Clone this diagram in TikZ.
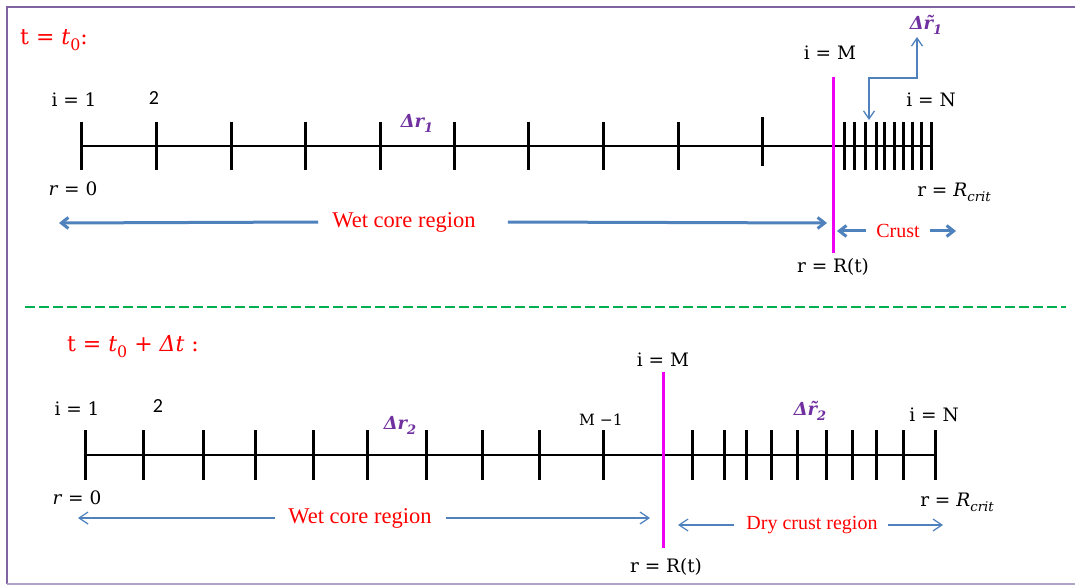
\documentclass[tikz,border=0pt]{standalone}
\usepackage{fontspec}
\newfontfamily\timesfont{Liberation Serif}
\newfontfamily\calibrifont{Carlito}
\newfontfamily\lblfont{DejaVu Serif}
\usetikzlibrary{arrows.meta}
\newcommand\lowidx[1]{\raisebox{-0.28em}{\scalebox{0.72}{#1}}}
\definecolor{framecol}{HTML}{8064A2}
\definecolor{framelight}{HTML}{B3A2C7}
\definecolor{arrowblue}{HTML}{4F81BD}
\definecolor{frontcol}{HTML}{F000F0}
\definecolor{sepgreen}{HTML}{00B050}
\definecolor{stepcol}{HTML}{7030A0}
\definecolor{titlered}{HTML}{FF0000}
\begin{document}
\begin{tikzpicture}[x=1pt,y=-1pt,
  lbl/.style={inner sep=0pt, font=\lblfont\fontsize{18.5}{20}\selectfont},
  digit/.style={inner sep=0pt, font=\calibrifont\fontsize{20}{22}\selectfont},
  ttl/.style={inner sep=0pt, text=titlered, font=\lblfont\fontsize{22}{24}\selectfont},
  regtxt/.style={inner sep=0pt, text=titlered, font=\timesfont\fontsize{20}{22}\selectfont},
  bigregtxt/.style={regtxt, font=\timesfont\fontsize{22.5}{24}\selectfont},
  steplbl/.style={inner sep=0pt, text=stepcol, font=\lblfont\bfseries\itshape\fontsize{18}{20}\selectfont},
  axisline/.style={line width=2pt, black},
  gridtick/.style={line width=3pt, black},
  frontline/.style={line width=3pt, frontcol},
  bigarrow/.style={line width=3pt, arrowblue, -{Straight Barb[length=7pt,width=11pt]}},
  thinarrow/.style={line width=1.2pt, arrowblue, -{Straight Barb[length=9pt,width=12pt]}},
  elbowarrow/.style={line width=1.3pt, arrowblue, {Straight Barb[length=8pt,width=11pt]}-{Straight Barb[length=8pt,width=11pt]}}
]
\useasboundingbox (0,0) rectangle (1075,585);

% frame
\draw[framecol, line width=2.5pt] (1075,7) -- (7,7) -- (7,584);
\draw[framelight, line width=2pt] (7,583.5) -- (1075,583.5);

% ---------------- state at t = t0 ----------------
\node[ttl] (ttop) at (54,40) {t = \textit{t}\lowidx{0}:};

\coordinate (axAs) at (81,146);
\coordinate (axAe) at (931,146);
\draw[axisline] (axAs) -- (axAe);
\foreach \x in {81,156,231,305,380,454,528,603,678}
  \draw[gridtick] (\x,122) -- (\x,170);
\draw[gridtick] (762,117) -- (762,166);
\foreach \x in {844,854,865,876,884,894,903,912,921,931}
  \draw[gridtick] (\x,122) -- (\x,170);

\coordinate (frAt) at (833,77);
\coordinate (frAb) at (833,253);
\draw[frontline] (frAt) -- (frAb);

\node[lbl] (iA1) at (74,100) {i = 1};
\node[digit] (twoA) at (154,98) {2};
\node[lbl] (r0A) at (73,189) {\textit{r} = 0};
\node[steplbl] (drA) at (417,123) {Δr\lowidx{1}};
\node[lbl] (iAM) at (830,53) {i = M};
\node[lbl] (iAN) at (931,100) {i = N};
\node[lbl] (rcA) at (954,192) {r = \textit{R}\lowidx{\textit{crit}}};
\node[lbl] (rtA) at (833,267) {r = R(t)};
\node[steplbl] (dtA) at (926,25) {Δr̃\lowidx{1}};

% pointer to the fine crust spacing
\coordinate (elA) at (869,120);
\coordinate (elB) at (917,78);
\coordinate (elC) at (917,37);
\draw[elbowarrow] (elA) |- (elB) -- (elC);

% region arrows
\node[bigregtxt] (wetA) at (404,222) {Wet core region};
\coordinate (wetAl) at (59,223);
\coordinate (wetAr) at (827,223);
\draw[bigarrow] ([xshift=-14pt]wetA.west) -- (wetAl);
\draw[bigarrow] ([xshift=32pt]wetA.east) -- (wetAr);

\node[regtxt] (crA) at (898,231) {Crust};
\coordinate (crAl) at (837,231);
\coordinate (crAr) at (956,231);
\draw[bigarrow] ([xshift=-10pt]crA.west) -- (crAl);
\draw[bigarrow] ([xshift=10pt]crA.east) -- (crAr);

% separator
\coordinate (sepL) at (25,307);
\coordinate (sepR) at (1066,307);
\draw[sepgreen, line width=1.5pt, dash pattern=on 10pt off 4pt] (sepL) -- (sepR);

% ---------------- state at t = t0 + dt ----------------
\node[ttl] (tbot) at (133,347) {t = \textit{t}\lowidx{0} + \textit{Δt} :};

\coordinate (axBs) at (85,455);
\coordinate (axBe) at (935,455);
\draw[axisline] (axBs) -- (axBe);
\foreach \x in {85,143,203,255,313,367,426,482,539,603}
  \draw[gridtick] (\x,430) -- (\x,480);
\foreach \x in {692,724,746,771,797,826,852,876,903,935}
  \draw[gridtick] (\x,430) -- (\x,480);

\coordinate (frBt) at (663,372);
\coordinate (frBb) at (663,548);
\draw[frontline] (frBt) -- (frBb);

\node[lbl] (iB1) at (77,409) {i = 1};
\node[digit] (twoB) at (158,406) {2};
\node[lbl] (r0B) at (77,498) {\textit{r} = 0};
\node[steplbl] (drB) at (400,425) {Δr\lowidx{2}};
\node[lbl, font=\lblfont\fontsize{15.5}{17}\selectfont] (mm1) at (601,420) {M −1};
\node[lbl] (iBM) at (663,360) {i = M};
\node[steplbl] (dtB) at (810,411) {Δr̃\lowidx{2}};
\node[lbl] (iBN) at (934,415) {i = N};
\node[lbl] (rcB) at (957,502) {r = \textit{R}\lowidx{\textit{crit}}};
\node[lbl] (rtB) at (666,567) {r = R(t)};

\node[bigregtxt] (wetB) at (360,518) {Wet core region};
\coordinate (wetBl) at (78,518);
\coordinate (wetBr) at (650,518);
\draw[thinarrow] ([xshift=-13pt]wetB.west) -- (wetBl);
\draw[thinarrow] ([xshift=14pt]wetB.east) -- (wetBr);

\node[regtxt] (dryB) at (812,525) {Dry crust region};
\coordinate (dryBl) at (678,525);
\coordinate (dryBr) at (943,525);
\draw[thinarrow] ([xshift=-12pt]dryB.west) -- (dryBl);
\draw[thinarrow] ([xshift=10pt]dryB.east) -- (dryBr);
\end{tikzpicture}
\end{document}
